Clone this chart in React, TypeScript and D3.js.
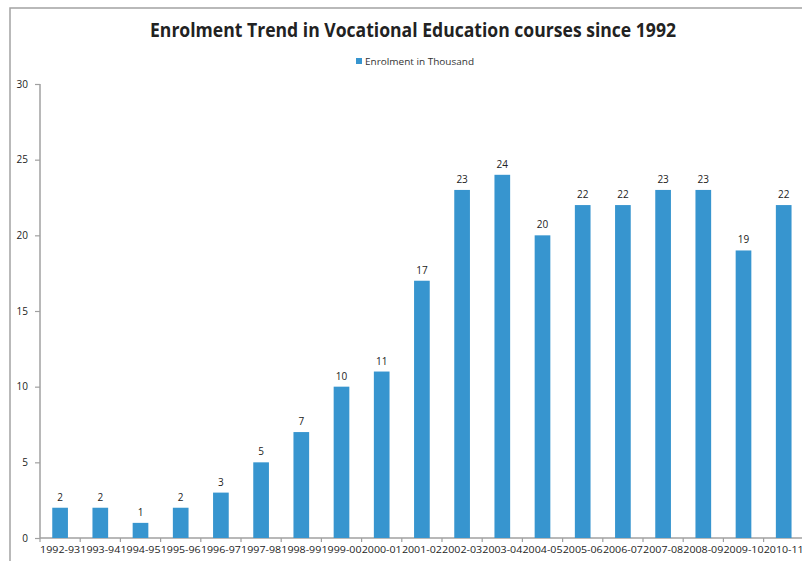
import React, { useEffect, useRef } from "react";
import * as d3 from "d3";

const years = [
  "1992-93", "1993-94", "1994-95", "1995-96", "1996-97", "1997-98", "1998-99",
  "1999-00", "2000-01", "2001-02", "2002-03", "2003-04", "2004-05", "2005-06",
  "2006-07", "2007-08", "2008-09", "2009-10", "2010-11",
];
const enrolment = [2, 2, 1, 2, 3, 5, 7, 10, 11, 17, 23, 24, 20, 22, 22, 23, 23, 19, 22];
const yTicks = [0, 5, 10, 15, 20, 25, 30];

const font = "Open Sans, Liberation Sans, sans-serif";

export default function App() {
  const ref = useRef<SVGSVGElement>(null);

  useEffect(() => {
    const svg = d3.select(ref.current);
    svg.selectAll("*").remove();

    const left = 40, right = 803.8, top = 84, bottom = 538;

    const x = d3.scaleBand().domain(years).range([left, right]).padding(0);
    const y = d3.scaleLinear().domain([0, 30]).range([bottom, top]);

    // outer frame (right edge runs off the picture)
    svg.append("path")
      .attr("d", "M10,600 L10,8 L900,8")
      .attr("fill", "none")
      .attr("stroke", "#a3a3a3")
      .attr("stroke-width", 1.5);

    svg.append("text")
      .attr("x", 413)
      .attr("y", 37)
      .attr("text-anchor", "middle")
      .attr("font-family", font)
      .attr("font-weight", "bold")
      .attr("font-size", 19)
      .attr("fill", "#222")
      .attr("textLength", 526)
      .attr("lengthAdjust", "spacingAndGlyphs")
      .text("Enrolment Trend in Vocational Education courses since 1992");

    // legend
    svg.append("rect")
      .attr("x", 356).attr("y", 58).attr("width", 6).attr("height", 6)
      .attr("fill", "#3795cf");
    svg.append("text")
      .attr("x", 365).attr("y", 64.5)
      .attr("font-family", font).attr("font-size", 9.5).attr("fill", "#333")
      .attr("textLength", 109).attr("lengthAdjust", "spacingAndGlyphs")
      .text("Enrolment in Thousand");

    // y axis
    const yAxis = svg.append("g").attr("transform", `translate(${left},0)`)
      .call(d3.axisLeft(y).tickValues(yTicks).tickSize(5).tickPadding(7));
    yAxis.select(".domain").attr("stroke", "#a0a0a0").attr("stroke-width", 1.5)
      .attr("d", `M0,${top}V${bottom}`);
    yAxis.selectAll(".tick line").attr("stroke", "#a0a0a0").attr("stroke-width", 1.2);
    yAxis.selectAll(".tick text").attr("font-family", font).attr("font-size", 10).attr("fill", "#222");

    // x axis line + ticks at band boundaries
    svg.append("line")
      .attr("x1", left).attr("x2", 802).attr("y1", bottom).attr("y2", bottom)
      .attr("stroke", "#a0a0a0").attr("stroke-width", 1.5);
    svg.append("g").selectAll("line")
      .data(years)
      .join("line")
      .attr("x1", (d) => x(d)!).attr("x2", (d) => x(d)!)
      .attr("y1", bottom).attr("y2", bottom + 4)
      .attr("stroke", "#a0a0a0").attr("stroke-width", 1.2);

    svg.append("g").selectAll("text")
      .data(years)
      .join("text")
      .attr("x", (d) => x(d)! + x.bandwidth() / 2)
      .attr("y", 553)
      .attr("text-anchor", "middle")
      .attr("font-family", font).attr("font-size", 9.6).attr("fill", "#222")
      .attr("textLength", 40).attr("lengthAdjust", "spacingAndGlyphs")
      .text((d) => d);

    // bars
    const bw = x.bandwidth() * 0.39;
    svg.append("g").selectAll("rect")
      .data(enrolment)
      .join("rect")
      .attr("x", (d, i) => x(years[i])! + x.bandwidth() / 2 - bw / 2)
      .attr("y", (d) => y(d))
      .attr("width", bw)
      .attr("height", (d) => bottom - y(d))
      .attr("fill", "#3795cf");

    svg.append("g").selectAll("text")
      .data(enrolment)
      .join("text")
      .attr("x", (d, i) => x(years[i])! + x.bandwidth() / 2)
      .attr("y", (d) => y(d) - 7)
      .attr("text-anchor", "middle")
      .attr("font-family", font).attr("font-size", 10).attr("fill", "#222")
      .text((d) => d);
  }, []);

  return (
    <svg
      ref={ref}
      width={802}
      height={561}
      style={{ position: "absolute", left: 0, top: 0, background: "#fff" }}
    />
  );
}
